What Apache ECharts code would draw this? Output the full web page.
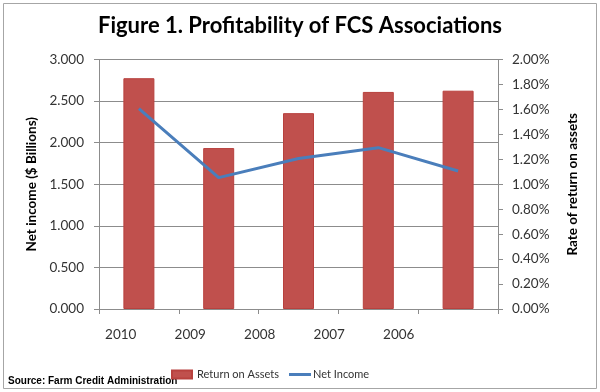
<!DOCTYPE html>
<html><head><meta charset="utf-8">
<script src="https://cdn.jsdelivr.net/npm/echarts@6/dist/echarts.min.js"></script>
<style>html,body{margin:0;padding:0;background:#fff}#c{width:600px;height:392px}</style>
</head><body><div id="c"></div>
<script>
const categories = ['2010','2009','2008','2007','2006'];
const returnOnAssets = [1.85, 1.29, 1.57, 1.74, 1.75];   // % (right axis)
const netIncome = [2.41, 1.58, 1.81, 1.94, 1.66];         // $ billions (left axis)
const leftTicks = {min:0, max:3, interval:0.5};
const rightTicks = {min:0, max:2, interval:0.2};

const chart = echarts.init(document.getElementById('c'));
const gray = '#8c8c8c';
const txt = '#333';
const fnt = 'Lato';
chart.setOption({
  animation:false,
  title:{text:'Figure 1. Profitability of FCS Associations', left:'center', top:10,
    textStyle:{fontFamily:fnt, fontWeight:'bold', fontSize:22, color:'#000'}},
  graphic:[
    {type:'rect', shape:{x:3.5,y:3.5,width:593,height:385}, style:{fill:'none', stroke:'#a6a6a6', lineWidth:1}, z:-1},
    {type:'text', left:8, top:376, style:{text:'Source: Farm Credit Administration', font:'bold 10px "Liberation Sans"', fill:'#000'}}
  ],
  legend:[
    {left:166, top:364, itemWidth:20, itemHeight:8,
      textStyle:{fontFamily:fnt, fontSize:11, color:txt},
      data:[{name:'Return on Assets', icon:'rect'}]},
    {left:284, top:364, itemWidth:22, itemHeight:3, itemGap:2,
      textStyle:{fontFamily:fnt, fontSize:11, color:txt, padding:[0,0,0,-3]},
      data:[{name:'Net Income', icon:'rect'}]}
  ],
  grid:[
    {left:99, right:102, top:59.5, bottom:83},
    {left:86, width:347.5, top:59.5, bottom:83}
  ],
  xAxis:[
    {type:'category', data:categories, gridIndex:0,
      axisLine:{lineStyle:{color:gray}}, axisTick:{show:true, length:5, lineStyle:{color:gray}},
      axisLabel:{show:false}},
    {type:'category', data:categories, gridIndex:1,
      axisLine:{show:false}, axisTick:{show:false},
      axisLabel:{margin:19, fontFamily:fnt, fontSize:13.5, color:txt}}
  ],
  yAxis:[
    {type:'value', gridIndex:0, min:leftTicks.min, max:leftTicks.max, interval:leftTicks.interval,
      name:'Net income ($ Billions)', nameLocation:'middle', nameRotate:90, nameGap:60,
      nameTextStyle:{fontFamily:fnt, fontWeight:'bold', fontSize:13.5, color:'#000'},
      axisLine:{show:true, lineStyle:{color:gray}}, axisTick:{show:true, length:5, lineStyle:{color:gray}},
      splitLine:{lineStyle:{color:gray}},
      axisLabel:{margin:15, fontFamily:fnt, fontSize:13.5, color:txt, formatter:v=>v.toFixed(3)}},
    {type:'value', gridIndex:0, position:'right', min:rightTicks.min, max:rightTicks.max, interval:rightTicks.interval,
      name:'Rate of return on assets', nameLocation:'middle', nameRotate:90, nameGap:68,
      nameTextStyle:{fontFamily:fnt, fontWeight:'bold', fontSize:13.5, color:'#000'},
      axisLine:{show:true, lineStyle:{color:gray}}, axisTick:{show:true, length:5, lineStyle:{color:gray}},
      splitLine:{show:false},
      axisLabel:{margin:14, fontFamily:fnt, fontSize:13.5, color:txt, formatter:v=>v.toFixed(2)+'%'}},
    {type:'value', gridIndex:1, show:false, min:0, max:1}
  ],
  series:[
    {name:'Return on Assets', type:'bar', xAxisIndex:0, yAxisIndex:1, data:returnOnAssets, barWidth:31,
      itemStyle:{color:'#C0504D', borderColor:'#b8413e', borderWidth:1}},
    {name:'Net Income', type:'line', xAxisIndex:0, yAxisIndex:0, data:netIncome, symbol:'none',
      lineStyle:{color:'#4A7EBB', width:3}, itemStyle:{color:'#4A7EBB'}}
  ]
});
</script></body></html>
